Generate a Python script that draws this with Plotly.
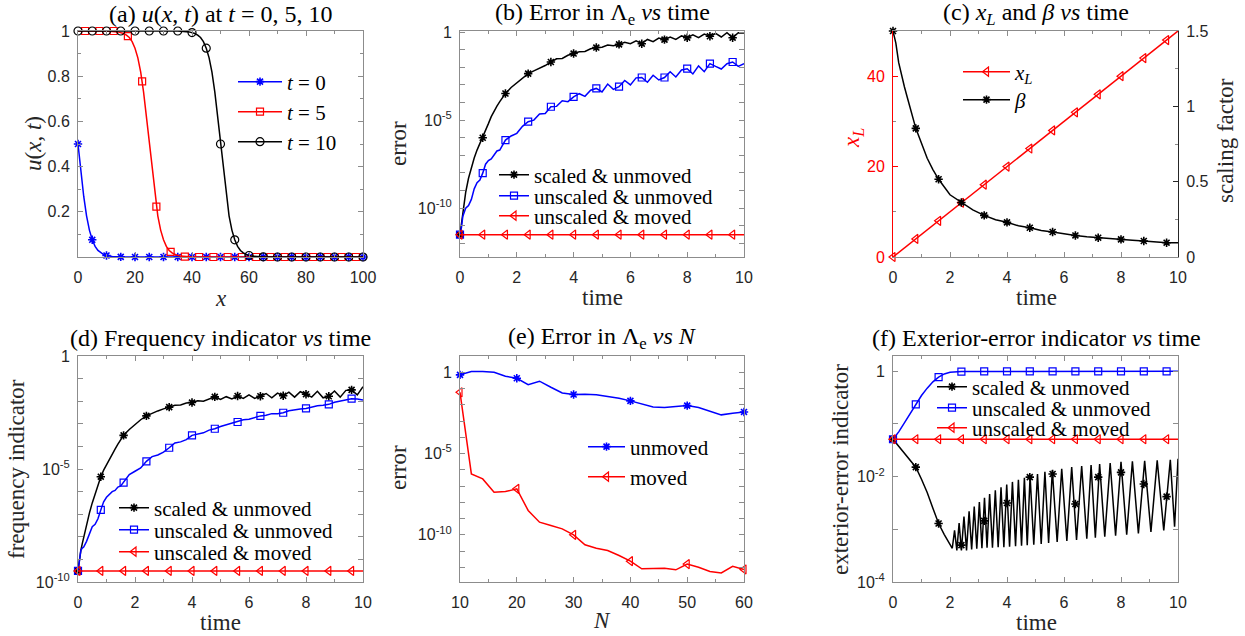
import numpy as np
import plotly.graph_objects as go

# ======================= DATA =======================
# ---- (a) u(x,t) at t = 0, 5, 10
a_x_t0 = [0, 1, 2, 3, 4, 5, 6, 7, 8, 9, 10, 11, 12, 14, 16, 18, 20, 100]
a_u_t0 = [0.5, 0.378, 0.269, 0.182, 0.119, 0.076, 0.047, 0.029, 0.018, 0.011, 0.0067, 0.004,
          0.0025, 0.0009, 0.0003, 0.0001, 0, 0]
a_x_t5 = [0, 10, 14, 16, 17, 18, 19, 20, 21, 22, 23, 24, 25, 26, 27, 28, 29, 30, 31, 32, 33, 34,
          36, 38, 40, 45, 100]
a_u_t5 = [1, 1, 0.996, 0.989, 0.982, 0.971, 0.953, 0.924, 0.881, 0.818, 0.731, 0.622, 0.5, 0.378,
          0.269, 0.182, 0.119, 0.076, 0.047, 0.029, 0.018, 0.011, 0.004, 0.0015, 0.0005, 0, 0]
a_x_t10 = [0, 35, 39, 41, 42, 43, 44, 45, 46, 47, 48, 49, 50, 51, 52, 53, 54, 55, 56, 57, 58, 59,
           61, 63, 65, 70, 100]
a_u_t10 = [1, 1, 0.996, 0.989, 0.982, 0.971, 0.953, 0.924, 0.881, 0.818, 0.731, 0.622, 0.5, 0.378,
           0.269, 0.182, 0.119, 0.076, 0.047, 0.029, 0.018, 0.011, 0.004, 0.0015, 0.0005, 0, 0]
a_xm_t0 = [0, 5, 10, 15, 20, 25, 30, 35, 40, 45, 50, 55, 60, 65, 70, 75, 80, 85, 90, 95, 100]
a_um_t0 = [0.5, 0.076, 0.0067, 0.0006, 0, 0, 0, 0, 0, 0, 0, 0, 0, 0, 0, 0, 0, 0, 0, 0, 0]
a_xm_t5 = [2.5, 7.5, 12.5, 17.5, 22.5, 27.5, 32.5, 37.5, 42.5, 47.5, 52.5, 57.5, 62.5, 67.5,
           72.5, 77.5, 82.5, 87.5, 92.5, 97.5]
a_um_t5 = [1, 1, 1, 0.977, 0.777, 0.223, 0.023, 0.0019, 0, 0, 0, 0, 0, 0, 0, 0, 0, 0, 0, 0]
a_xm_t10 = [0, 5, 10, 15, 20, 25, 30, 35, 40, 45, 50, 55, 60, 65, 70, 75, 80, 85, 90, 95, 100]
a_um_t10 = [1, 1, 1, 1, 1, 1, 1, 1, 0.993, 0.924, 0.5, 0.076, 0.0067, 0.0006, 0, 0, 0, 0, 0, 0, 0]

# ---- common time grid for (b) and (d) and marker times
t_grid = [0, 0.05, 0.1, 0.15, 0.2, 0.3, 0.4, 0.5, 0.6, 0.7, 0.8, 0.9, 1.0, 1.1, 1.2, 1.3, 1.4, 1.5,
          1.6, 1.8, 2.0, 2.2, 2.4, 2.6, 2.8, 3.0, 3.2, 3.4, 3.6, 3.8, 4.0, 4.2, 4.4, 4.6, 4.8, 5.0,
          5.2, 5.4, 5.6, 5.8, 6.0, 6.2, 6.4, 6.6, 6.8, 7.0, 7.2, 7.4, 7.6, 7.8, 8.0, 8.2, 8.4, 8.6,
          8.8, 9.0, 9.2, 9.4, 9.6, 9.8, 10.0]
t_marks = [0, 0.8, 1.6, 2.4, 3.2, 4.0, 4.8, 5.6, 6.4, 7.2, 8.0, 8.8, 9.6]

# ---- (b) error in Lambda_e vs time (log10 values)
b_scaled_unmoved = [-11.5, -10.9, -10.2, -9.6, -9.1, -8.3, -7.7, -7.15, -6.7, -6.35, -6.0, -5.6,
                    -5.2, -4.8, -4.45, -4.2, -3.95, -3.72, -3.49, -3.15, -2.88, -2.6, -2.36, -2.2,
                    -2.05, -1.9, -1.70, -1.52, -1.50, -1.32, -1.22, -1.12, -1.10, -0.95, -0.88,
                    -0.86, -0.74, -0.78, -0.70, -0.58, -0.66, -0.50, -0.66, -0.42, -0.55, -0.34,
                    -0.43, -0.28, -0.42, -0.22, -0.32, -0.16, -0.32, -0.12, -0.24, -0.08, -0.28,
                    -0.04, -0.32, -0.04, -0.06]
b_unscaled_unmoved = [-11.5, -11.1, -10.45, -10.15, -10.0, -9.85, -9.5, -8.9, -8.55, -8.4, -8.01,
                      -7.5, -7.3, -7.2, -6.95, -6.75, -6.7, -6.45, -6.13, -5.9, -5.75, -5.35, -5.09,
                      -5.0, -4.65, -4.62, -4.24, -4.22, -3.9, -3.95, -3.68, -3.5, -3.65, -3.3,
                      -3.2, -3.4, -2.95, -3.25, -3.1, -2.75, -3.0, -2.6, -2.58, -2.85, -2.45, -2.72,
                      -2.58, -2.25, -2.55, -2.15, -2.08, -2.38, -1.92, -2.25, -1.79, -1.95, -2.1,
                      -1.8, -1.7, -1.95, -1.79]
b_moved_t = [0, 0.8, 1.6, 2.4, 3.2, 4.0, 4.8, 5.6, 6.4, 7.2, 8.0, 8.8, 9.6, 10.0]
b_unscaled_moved = [-11.5, -11.5, -11.5, -11.5, -11.5, -11.5, -11.5, -11.5, -11.5, -11.5, -11.5,
                    -11.5, -11.5, -11.5]

# ---- (c) x_L and beta vs time
c_t_xl = [0, 0.8, 1.6, 2.4, 3.2, 4.0, 4.8, 5.6, 6.4, 7.2, 8.0, 8.8, 9.6, 10.0]
c_xl = [0, 4, 8, 12, 16, 20, 24, 28, 32, 36, 40, 44, 48, 50]
c_t_beta = [0, 0.1, 0.2, 0.3, 0.4, 0.5, 0.6, 0.8, 1.0, 1.2, 1.4, 1.6, 2.0, 2.4, 2.8, 3.2, 3.6, 4.0,
            4.4, 4.8, 5.2, 5.6, 6.0, 6.4, 6.8, 7.2, 7.6, 8.0, 8.4, 8.8, 9.2, 9.6, 10.0]
c_beta = [1.5, 1.42, 1.29, 1.20, 1.13, 1.06, 0.99, 0.854, 0.755, 0.655, 0.58, 0.516, 0.413, 0.362,
          0.313, 0.276, 0.247, 0.230, 0.207, 0.194, 0.176, 0.166, 0.152, 0.143, 0.135, 0.128,
          0.122, 0.117, 0.111, 0.106, 0.100, 0.095, 0.095]

# ---- (d) frequency indicator vs time (log10 values)
d_scaled_unmoved = [-9.51, -9.0, -8.6, -8.3, -8.0, -7.45, -6.95, -6.5, -6.1, -5.7, -5.34, -5.05,
                    -4.8, -4.57, -4.35, -4.12, -3.9, -3.7, -3.51, -3.25, -3.02, -2.82, -2.65,
                    -2.53, -2.43, -2.34, -2.26, -2.18, -2.17, -2.08, -2.06, -1.98, -2.0, -1.9,
                    -1.81, -1.92, -1.80, -1.90, -1.77, -1.88, -1.72, -1.88, -1.78, -1.66, -1.85,
                    -1.64, -1.76, -1.60, -1.82, -1.58, -1.69, -1.82, -1.56, -1.85, -1.78, -1.55,
                    -1.82, -1.52, -1.50, -1.72, -1.36]
d_unscaled_unmoved = [-9.51, -8.9, -8.6, -8.5, -8.45, -8.2, -7.9, -7.55, -7.45, -7.2, -6.81,
                      -6.45, -6.25, -6.1, -6.0, -5.95, -5.8, -5.75, -5.60, -5.25, -5.1, -4.95,
                      -4.66, -4.45, -4.38, -4.25, -4.06, -3.85, -3.8, -3.7, -3.51, -3.45, -3.4,
                      -3.28, -3.22, -3.12, -3.05, -2.98, -2.92, -2.82, -2.8, -2.72, -2.65, -2.62,
                      -2.55, -2.55, -2.51, -2.42, -2.4, -2.35, -2.32, -2.25, -2.2, -2.18, -2.14,
                      -2.05, -2.0, -1.92, -1.89, -1.9, -1.95]
d_unscaled_moved = [-9.51, -9.51, -9.51, -9.51, -9.51, -9.51, -9.51, -9.51, -9.51, -9.51, -9.51,
                    -9.51, -9.51, -9.51]

# ---- (e) error in Lambda_e vs N (log10 values)
e_N = [10, 12, 14, 16, 18, 20, 22, 24, 26, 28, 30, 32, 34, 36, 38, 40, 42, 44, 46, 48, 50, 52, 54,
       56, 58, 60]
e_unmoved = [-0.16, 0.04, 0.04, 0.0, -0.25, -0.37, -0.76, -0.55, -0.92, -1.27, -1.37, -1.35, -1.39,
             -1.48, -1.6, -1.76, -1.95, -2.13, -2.17, -2.09, -2.05, -2.17, -2.4, -2.62, -2.52,
             -2.44]
e_moved = [-1.23, -6.25, -6.56, -7.38, -7.34, -7.17, -8.5, -9.22, -9.43, -9.63, -10.0, -10.61,
           -10.82, -10.96, -11.27, -11.62, -12.09, -12.09, -12.05, -12.15, -11.8, -11.99, -12.25,
           -12.34, -11.93, -12.13]
e_N_marks = [10, 20, 30, 40, 50, 60]

# ---- (f) exterior-error indicator vs time (log10 values)
f_t_scaled = [0, 0.2, 0.4, 0.6, 0.8, 1.0, 1.2, 1.4, 1.6, 1.8, 2.0,
              2.08, 2.16, 2.24, 2.32, 2.40, 2.49, 2.58, 2.67, 2.76, 2.85, 2.94, 3.03, 3.12, 3.21,
              3.30, 3.39, 3.49, 3.59, 3.69, 3.79, 3.89, 3.99, 4.09, 4.19, 4.30, 4.40, 4.51, 4.61,
              4.71, 4.81, 4.94, 5.07, 5.20, 5.33, 5.46, 5.59, 5.76, 5.92, 6.10, 6.27, 6.44, 6.62,
              6.80, 6.95, 7.10, 7.25, 7.43, 7.62, 7.81, 8.00, 8.20, 8.40, 8.61, 8.83, 9.05, 9.27,
              9.50, 9.73, 9.88, 10.0]
f_scaled_unmoved = [-1.29, -1.42, -1.55, -1.68, -1.82, -2.05, -2.3, -2.6, -2.89, -3.1, -3.28,
                    -3.36, -3.02, -3.40, -2.88, -3.40, -2.76, -3.40, -2.66, -3.38, -2.57, -3.37,
                    -2.48, -3.36, -2.40, -3.35, -2.33, -3.35, -2.26, -3.34, -2.20, -3.34, -2.15,
                    -3.33, -2.10, -3.32, -2.06, -3.31, -2.02, -3.30, -1.99, -3.29, -1.95, -3.28,
                    -1.91, -3.26, -1.88, -3.24, -1.85, -3.22, -1.82, -3.20, -1.80, -3.18, -1.78,
                    -3.16, -1.76, -3.14, -1.74, -3.12, -1.72, -3.10, -1.71, -3.08, -1.70, -3.05,
                    -1.69, -3.02, -1.68, -2.95, -1.66]
f_scaled_unmoved_marks = [-1.29, -1.82, -2.89, -3.3, -2.84, -2.5, -2.01, -1.95, -2.52, -2.01,
                          -1.92, -2.14, -2.38]
f_t_unscaled = [0, 0.2, 0.4, 0.6, 0.8, 1.0, 1.2, 1.4, 1.6, 1.8, 2.0, 2.2, 2.4, 3.2, 4.0, 4.8, 5.6,
                6.4, 7.2, 8.0, 8.8, 9.6, 10.0]
f_unscaled_unmoved = [-1.29, -1.15, -0.98, -0.80, -0.63, -0.46, -0.32, -0.20, -0.11, -0.05, -0.02,
                      -0.01, -0.005, -0.003, -0.002, -0.001, -0.001, 0, 0, 0, 0, 0, 0]
f_unscaled_moved = [-1.29, -1.29, -1.29, -1.29, -1.29, -1.29, -1.29, -1.29, -1.29, -1.29, -1.29,
                    -1.29, -1.29, -1.29]

# ---- tick labels
lin_x_ticks_time = [0, 2, 4, 6, 8, 10]
a_x_ticks = [0, 20, 40, 60, 80, 100]
a_y_ticks = [0.2, 0.4, 0.6, 0.8, 1]
a_y_ticktext = ['0.2', '0.4', '0.6', '0.8', '1']
c_left_ticks = [0, 20, 40]
c_right_ticks = [0, 0.5, 1, 1.5]
c_right_ticktext = ['0', '0.5', '1', '1.5']
e_x_ticks = [10, 20, 30, 40, 50, 60]
b_log_labels = {0: '1', -5: '10<sup>-5</sup>', -10: '10<sup>-10</sup>'}
d_log_labels = {0: '1', -5: '10<sup>-5</sup>', -10: '10<sup>-10</sup>'}
e_log_labels = {0: '1', -5: '10<sup>-5</sup>', -10: '10<sup>-10</sup>'}
f_log_labels = {0: '1', -2: '10<sup>-2</sup>', -4: '10<sup>-4</sup>'}

for a, b in [(a_x_t0, a_u_t0), (a_x_t5, a_u_t5), (a_x_t10, a_u_t10), (a_xm_t0, a_um_t0),
             (a_xm_t5, a_um_t5), (a_xm_t10, a_um_t10), (t_grid, b_scaled_unmoved),
             (t_grid, b_unscaled_unmoved), (t_grid, d_scaled_unmoved), (t_grid, d_unscaled_unmoved),
             (b_moved_t, b_unscaled_moved), (c_t_xl, c_xl), (c_t_beta, c_beta), (e_N, e_unmoved),
             (e_N, e_moved), (f_t_scaled, f_scaled_unmoved), (t_marks, f_scaled_unmoved_marks),
             (f_t_unscaled, f_unscaled_unmoved), (b_moved_t, f_unscaled_moved),
             (b_moved_t, d_unscaled_moved)]:
    assert len(a) == len(b), (len(a), len(b))

# ======================= STYLE / LAYOUT =======================
W, H = 1245, 636
BLUE, RED, BLACK = '#0000ff', '#ff0000', '#000000'
AXC = '#8c8c8c'
TXT = '#262626'
SERIF = 'Liberation Serif'
SANS = 'Liberation Sans'


def fx(p):
    return p / W


def fy(p):
    return 1 - p / H


def pick(tsrc, vals, tsel):
    lut = dict(zip(tsrc, vals))
    return [lut[t] for t in tsel]


def p10(v):
    return list(np.power(10.0, np.array(v, dtype=float)))


MK = {
    'star': dict(symbol='asterisk-open', size=7),
    'square': dict(symbol='square-open', size=7),
    'tri': dict(symbol='triangle-left-open', size=8),
    'circle': dict(symbol='circle-open', size=8),
}

fig = go.Figure()
legend_count = [0]
legend_layouts = {}


def marker_style(kind, color):
    m = dict(MK[kind])
    lw = 1.6 if kind == 'star' else 1.2
    m.update(color=color, line=dict(color=color, width=lw))
    return m


def new_legend(xpx, ypx, iw):
    legend_count[0] += 1
    k = legend_count[0]
    key = 'legend' if k == 1 else 'legend%d' % k
    legend_layouts[key] = dict(x=fx(xpx), y=fy(ypx), xanchor='left', yanchor='middle',
                               bgcolor='rgba(0,0,0,0)', borderwidth=0,
                               font=dict(family=SERIF, size=21, color='black'),
                               itemwidth=iw, tracegroupgap=0)
    return key


def series(xa, ya, x, y, xm, ym, color, kind, name=None, leg=None, iw=30):
    fig.add_trace(go.Scatter(x=x, y=y, mode='lines', line=dict(color=color, width=1.5),
                             xaxis=xa, yaxis=ya, showlegend=False, hoverinfo='skip'))
    fig.add_trace(go.Scatter(x=xm, y=ym, mode='markers', marker=marker_style(kind, color),
                             xaxis=xa, yaxis=ya, showlegend=False, cliponaxis=False,
                             hoverinfo='skip'))
    if leg is not None:
        fig.add_trace(go.Scatter(x=[None], y=[None], mode='lines+markers', name=name,
                                 line=dict(color=color, width=1.5),
                                 marker=marker_style(kind, color), xaxis=xa, yaxis=ya,
                                 showlegend=True, legend=new_legend(leg[0], leg[1], iw)))


# (a)
series('x', 'y', a_x_t0, a_u_t0, a_xm_t0, a_um_t0, BLUE, 'star', '<i>t</i> = 0', (233, 82), 44)
series('x', 'y', a_x_t5, a_u_t5, a_xm_t5, a_um_t5, RED, 'square', '<i>t</i> = 5', (233, 112), 44)
series('x', 'y', a_x_t10, a_u_t10, a_xm_t10, a_um_t10, BLACK, 'circle', '<i>t</i> = 10', (233, 142), 44)

# (b)
series('x2', 'y2', t_grid, p10(b_scaled_unmoved), t_marks,
       p10(pick(t_grid, b_scaled_unmoved, t_marks)), BLACK, 'star', 'scaled & unmoved', (494, 175))
series('x2', 'y2', t_grid, p10(b_unscaled_unmoved), t_marks,
       p10(pick(t_grid, b_unscaled_unmoved, t_marks)), BLUE, 'square', 'unscaled & unmoved', (494, 196))
series('x2', 'y2', b_moved_t, p10(b_unscaled_moved), t_marks, p10(b_unscaled_moved[:13]), RED,
       'tri', 'unscaled & moved', (494, 216))

# (c)
series('x3', 'y3', c_t_xl, c_xl, t_marks, c_xl[:13], RED, 'tri', '<i>x<sub>L</sub></i>', (958, 72), 47)
series('x3', 'y7', c_t_beta, c_beta, t_marks, pick(c_t_beta, c_beta, t_marks), BLACK, 'star',
       '<i>β</i>', (958, 100), 47)

# (d)
series('x4', 'y4', t_grid, p10(d_scaled_unmoved), t_marks,
       p10(pick(t_grid, d_scaled_unmoved, t_marks)), BLACK, 'star', 'scaled & unmoved', (114, 508))
series('x4', 'y4', t_grid, p10(d_unscaled_unmoved), t_marks,
       p10(pick(t_grid, d_unscaled_unmoved, t_marks)), BLUE, 'square', 'unscaled & unmoved', (114, 530))
series('x4', 'y4', b_moved_t, p10(d_unscaled_moved), t_marks, p10(d_unscaled_moved[:13]), RED,
       'tri', 'unscaled & moved', (114, 552))

# (e)
series('x5', 'y5', e_N, p10(e_unmoved), e_N_marks, p10(pick(e_N, e_unmoved, e_N_marks)), BLUE,
       'star', 'unmoved', (583, 447), 37)
series('x5', 'y5', e_N, p10(e_moved), e_N_marks, p10(pick(e_N, e_moved, e_N_marks)), RED,
       'tri', 'moved', (583, 477), 37)

# (f)
series('x6', 'y6', f_t_scaled, p10(f_scaled_unmoved), t_marks, p10(f_scaled_unmoved_marks), BLACK,
       'star', 'scaled & unmoved', (932, 387))
series('x6', 'y6', f_t_unscaled, p10(f_unscaled_unmoved), t_marks,
       p10(pick(f_t_unscaled, f_unscaled_unmoved, t_marks)), BLUE, 'square', 'unscaled & unmoved',
       (932, 408))
series('x6', 'y6', b_moved_t, p10(f_unscaled_moved), t_marks, p10(f_unscaled_moved[:13]), RED,
       'tri', 'unscaled & moved', (932, 428))

# ---------------- axes ----------------
COLS = [(78, 363), (460, 744), (893, 1178)]
ROWS = [(31, 257), (356, 582)]


def base_axis(**kw):
    d = dict(showline=True, linecolor=AXC, linewidth=1, mirror='ticks', ticks='inside',
             ticklen=5, tickcolor=AXC, tickwidth=1, showgrid=False, zeroline=False,
             automargin=False,
             tickfont=dict(family=SANS, size=16, color=TXT), ticklabelstandoff=4)
    d.update(kw)
    return d


def minor(dt):
    return dict(ticks='inside', ticklen=3, tickcolor=AXC, dtick=dt, showgrid=False)


def log_axis(lo, hi, labels, exps, **kw):
    vals = [10.0 ** k for k in exps]
    text = [labels.get(k, '') for k in exps]
    return base_axis(type='log', range=[lo, hi], tickmode='array', tickvals=vals, ticktext=text, **kw)


def xdom(c):
    return [fx(COLS[c][0]), fx(COLS[c][1])]


def ydom(r):
    return [fy(ROWS[r][1]), fy(ROWS[r][0])]


layout = dict(
    width=W, height=H, margin=dict(l=0, r=0, t=0, b=0, autoexpand=False),
    paper_bgcolor='white', plot_bgcolor='white',
    font=dict(family=SANS, size=16, color=TXT),
    xaxis=base_axis(domain=xdom(0), anchor='y', range=[0, 100], tickmode='array',
                    tickvals=a_x_ticks, minor=minor(10), ticklabelstandoff=6),
    yaxis=base_axis(domain=ydom(0), anchor='x', range=[0, 1], tickmode='array',
                    tickvals=a_y_ticks, ticktext=a_y_ticktext, minor=minor(0.1)),
    xaxis2=base_axis(domain=xdom(1), anchor='y2', range=[0, 10], tickmode='array',
                     tickvals=lin_x_ticks_time, minor=minor(1), ticklabelstandoff=6),
    yaxis2=log_axis(-12.77, 0.06, b_log_labels, list(range(-12, 1)), domain=ydom(0), anchor='x2'),
    xaxis3=base_axis(domain=xdom(2), anchor='y3', range=[0, 10], tickmode='array',
                     tickvals=lin_x_ticks_time, minor=minor(1), ticklabelstandoff=6),
    yaxis3=base_axis(domain=ydom(0), anchor='x3', range=[0, 50], tickmode='array',
                     tickvals=c_left_ticks, minor=minor(10), linecolor=RED, tickcolor=RED,
                     mirror=False, tickfont=dict(family=SANS, size=16, color=RED)),
    yaxis7=base_axis(domain=ydom(0), anchor='x3', overlaying='y3', side='right', range=[0, 1.5],
                     tickmode='array', tickvals=c_right_ticks, ticktext=c_right_ticktext,
                     minor=minor(0.25), mirror=False, linecolor=TXT, tickcolor=TXT),
    xaxis4=base_axis(domain=xdom(0), anchor='y4', range=[0, 10], tickmode='array',
                     tickvals=lin_x_ticks_time, minor=minor(1), ticklabelstandoff=6),
    yaxis4=log_axis(-10, 0, d_log_labels, list(range(-10, 1)), domain=ydom(1), anchor='x4'),
    xaxis5=base_axis(domain=xdom(1), anchor='y5', range=[10, 60], tickmode='array',
                     tickvals=e_x_ticks, minor=minor(5), ticklabelstandoff=6),
    yaxis5=log_axis(-12.9, 1.0, e_log_labels, list(range(-12, 2)), domain=ydom(1), anchor='x5'),
    xaxis6=base_axis(domain=xdom(2), anchor='y6', range=[0, 10], tickmode='array',
                     tickvals=lin_x_ticks_time, minor=minor(1), ticklabelstandoff=6),
    yaxis6=log_axis(-4, 0.29, f_log_labels, list(range(-4, 1)), domain=ydom(1), anchor='x6'),
)
layout.update(legend_layouts)
fig.update_layout(**layout)

# ---------------- titles and axis labels ----------------
titles = [
    ('(a) <i>u</i>(<i>x</i>, <i>t</i>) at <i>t</i> = 0, 5, 10', 220.5, 14),
    ('(b) Error in Λ<sub>e</sub> <i>vs</i> time', 602, 14),
    ('(c) <i>x<sub>L</sub></i> and <i>β</i> <i>vs</i> time', 1036, 14),
    ('(d) Frequency indicator <i>vs</i> time', 220.5, 338),
    ('(e) Error in Λ<sub>e</sub> <i>vs N</i>', 602, 338),
    ('(f) Exterior-error indicator <i>vs</i> time', 1036, 338),
]
for txt, cx, cy in titles:
    fig.add_annotation(text=txt, x=fx(cx), y=fy(cy), xref='paper', yref='paper',
                       xanchor='center', yanchor='middle', showarrow=False,
                       font=dict(family=SERIF, size=24, color='black'))

axis_titles = [
    ('<i>x</i>', 220.5, 298, 0, TXT),
    ('time', 602, 297, 0, TXT),
    ('time', 1036, 297, 0, TXT),
    ('time', 220.5, 622, 0, TXT),
    ('<i>N</i>', 602, 620, 0, TXT),
    ('time', 1036, 622, 0, TXT),
    ('<i>u</i>(<i>x</i>, <i>t</i>)', 34, 144, -90, TXT),
    ('error', 399, 144, -90, TXT),
    ('<i>x<sub>L</sub></i>', 853, 138, -90, RED),
    ('scaling factor', 1225, 141, -90, TXT),
    ('frequency indicator', 16, 469, -90, TXT),
    ('error', 399, 468, -90, TXT),
    ('exterior-error indicator', 840, 469, -90, TXT),
]
for txt, cx, cy, ang, col in axis_titles:
    fig.add_annotation(text=txt, x=fx(cx), y=fy(cy), xref='paper', yref='paper',
                       xanchor='center', yanchor='middle', showarrow=False, textangle=ang,
                       font=dict(family=SERIF, size=23, color=col))

fig.write_html('out.html', config={'displayModeBar': False},
               post_script="document.body.style.margin='0';")
